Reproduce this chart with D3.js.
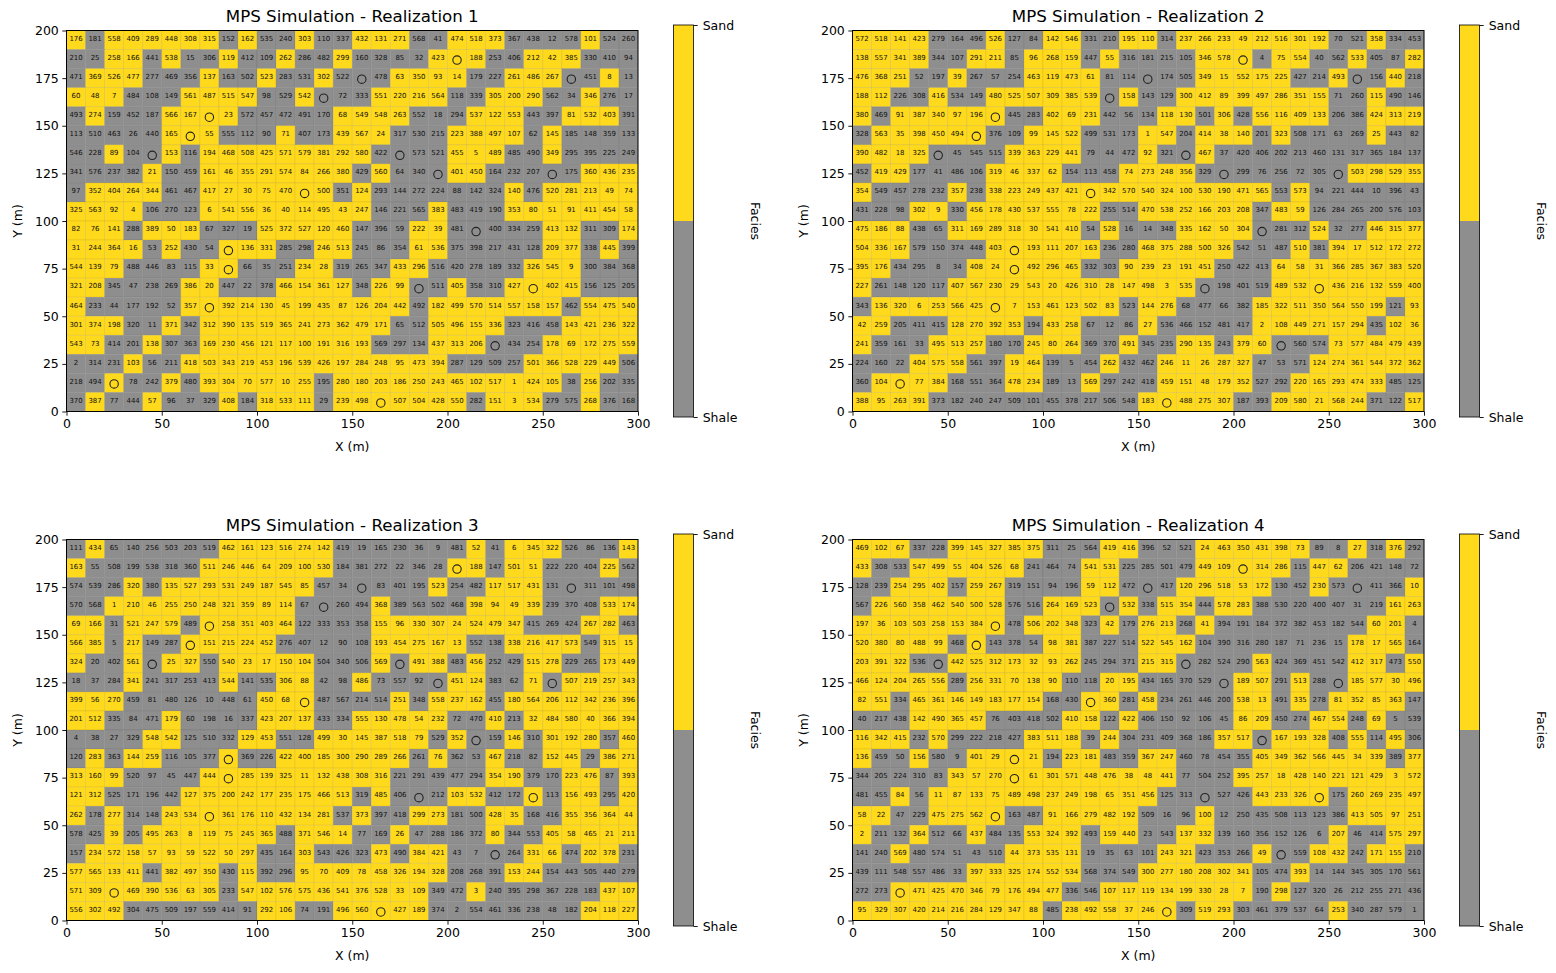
<!DOCTYPE html>
<html>
<head>
<meta charset="utf-8">
<script src="https://cdnjs.cloudflare.com/ajax/libs/d3/7.8.5/d3.min.js"></script>
<style>
html,body{margin:0;padding:0;background:#fff}
svg{display:block}
text{font-family:"DejaVu Sans",sans-serif;fill:#000}
</style>
</head>
<body>
<script>
// Conditioning wells, in metres
const wellX = [205,155,265,135,75,65,45,175,195,255,125,215,85,85,185,245,75,225,25,165];
const wellY = [185,175,175,165,155,145,135,135,125,125,115,95,85,75,65,65,55,35,15,5];

const xTicks = [0,50,100,150,200,250,300];
const yTicks = [0,25,50,75,100,125,150,175,200];
const facieNames = ["Shale","Sand"];
const facieColors = ["#8e8e8e","#ffd91c"];

// Realization 1: node order labels (null at a well) and facies, listed from the top row down
const labels1 = [
[176,181,558,409,289,448,308,315,152,162,535,240,303,110,337,432,131,271,568,41,474,518,373,367,438,12,578,101,524,260],
[210,25,258,166,441,538,15,306,119,412,109,262,286,482,299,160,328,85,32,423,null,188,253,406,212,42,385,330,410,94],
[471,369,526,477,277,469,356,137,163,502,523,283,531,302,522,null,478,63,350,93,14,179,227,261,486,267,null,451,8,13],
[60,48,7,484,108,149,561,487,515,547,98,529,542,null,72,333,551,220,216,564,118,339,305,200,290,562,34,346,276,17],
[493,274,159,452,187,566,167,null,23,572,457,472,491,170,68,549,548,263,552,18,294,537,122,553,443,397,81,532,403,391],
[113,510,463,26,440,165,null,55,555,112,90,71,407,173,439,567,24,317,530,215,223,388,497,107,62,145,185,148,359,133],
[546,228,89,104,null,153,116,194,468,508,425,571,579,381,292,580,422,null,573,521,455,5,489,485,490,349,295,395,225,249],
[341,576,237,382,21,150,459,161,46,355,291,574,84,266,380,429,560,64,340,null,401,450,164,232,207,null,175,360,436,235],
[97,352,404,264,344,461,467,417,27,30,75,470,null,500,351,124,293,144,272,224,88,142,324,140,476,520,281,213,49,74],
[325,563,92,4,106,270,123,6,541,556,36,40,114,495,43,247,146,221,565,383,483,419,190,353,80,51,91,411,454,58],
[82,76,141,288,389,50,183,67,327,19,525,372,527,120,460,147,396,59,222,39,481,null,400,334,259,413,132,311,309,174],
[31,244,364,16,53,252,430,54,null,136,331,285,298,246,513,245,86,354,61,536,375,398,217,431,128,209,377,338,445,399],
[544,139,79,488,446,83,115,33,null,66,35,251,234,28,319,265,347,433,296,516,420,278,189,332,326,545,9,300,384,368],
[321,208,345,47,238,269,386,20,447,22,378,466,154,361,127,348,226,99,null,511,405,358,310,427,null,402,415,156,125,205],
[464,233,44,177,192,52,357,null,392,214,130,45,199,435,87,126,204,442,492,182,499,570,514,557,158,157,462,554,475,540],
[301,374,198,320,11,371,342,312,390,135,519,365,241,273,362,479,171,65,512,505,496,155,336,323,416,458,143,421,236,322],
[543,73,414,201,138,307,363,169,230,456,121,117,100,191,316,193,569,297,134,437,313,206,null,434,254,178,69,172,275,559],
[2,314,231,103,56,211,418,503,343,219,453,196,539,426,197,284,248,95,473,394,287,129,509,257,501,366,528,229,449,506],
[218,494,null,78,242,379,480,393,304,70,577,10,255,195,280,180,203,186,250,243,465,102,517,1,424,105,38,256,202,335],
[370,387,77,444,57,96,37,329,408,184,318,533,111,29,239,498,null,507,504,428,550,282,151,3,534,279,575,268,376,168]
];
const facies1 = [
"101111110100100111001110000100",
"001101001001001000011100111000",
"011100010010010001111001110010",
"111000111100100011110011100100",
"010001111000001111000111001110",
"000001110001001110001111010000",
"001001011111111100001110010000",
"000010011111111010001100000111",
"011110011111110100000001011111",
"111100011111111100010001111111",
"111011100011111000110000011001",
"111101001110011000110000011010",
"111000011000110001100000111000",
"110000110001111011001001111000",
"100000111111111111011111110111",
"111001011111111110011110001111",
"110010011111111100011100011111",
"000100111111111111110000111110",
"001001011111101111111111110100",
"010010001011101111111011100100"
];

// Realization 2
const labels2 = [
[572,518,141,423,279,164,496,526,127,84,142,546,331,210,195,110,314,237,266,233,49,212,516,301,192,70,521,358,334,453],
[138,557,341,389,344,107,291,211,85,96,268,159,447,55,316,181,215,105,346,578,null,4,75,554,40,562,533,405,87,282],
[476,368,251,52,197,39,267,57,254,463,119,473,61,81,114,null,174,505,349,15,552,175,225,427,214,493,null,156,440,218],
[188,112,226,308,416,534,149,480,525,507,309,385,539,null,158,143,129,300,412,89,399,497,286,351,155,71,260,115,490,146],
[380,469,91,387,340,97,196,null,445,283,402,69,231,442,56,134,118,130,501,306,428,556,116,409,133,206,386,424,313,219],
[328,563,35,398,450,494,null,376,109,99,145,522,499,531,173,1,547,204,414,38,140,201,323,508,171,63,269,25,443,82],
[390,482,18,325,null,45,545,515,339,363,229,441,79,44,472,92,321,null,467,37,420,406,202,213,460,131,317,365,184,137],
[452,419,429,177,41,486,106,319,46,337,62,154,113,458,74,273,248,356,329,null,299,76,256,72,305,null,503,298,529,355],
[354,549,457,278,232,357,238,338,223,249,437,421,null,342,570,540,324,100,530,190,471,565,553,573,94,221,444,10,396,43],
[431,228,98,302,9,330,456,178,430,537,555,78,222,255,514,470,538,252,166,203,208,347,483,59,126,284,265,200,576,103],
[475,186,88,438,65,311,169,289,318,30,541,410,54,528,16,14,348,335,162,50,304,null,281,312,524,32,277,446,315,377],
[504,336,167,579,150,374,448,403,null,193,111,207,163,236,280,468,375,288,500,326,542,51,487,510,381,394,17,512,172,272],
[395,176,434,295,8,34,408,24,null,492,296,465,332,303,90,239,23,191,451,250,422,413,64,58,31,366,285,367,383,520],
[227,261,148,120,117,407,567,230,29,543,20,426,310,28,147,498,3,535,null,198,401,519,489,532,null,436,216,132,559,400],
[343,136,320,6,253,566,425,null,7,153,461,123,502,83,523,144,276,68,477,66,382,185,322,511,350,564,550,199,121,93],
[42,259,205,411,415,128,270,392,353,194,433,258,67,12,86,27,536,466,152,481,417,2,108,449,271,157,294,435,102,36],
[241,359,161,33,495,513,257,180,170,245,80,264,369,370,491,345,235,290,135,243,379,60,null,560,574,73,577,484,479,439],
[224,160,22,404,575,558,561,397,19,464,139,5,454,262,432,462,246,11,26,287,327,47,53,571,124,274,361,544,372,362],
[360,104,null,77,384,168,551,364,478,234,189,13,569,297,242,418,459,151,48,179,352,527,292,220,165,293,474,333,485,125],
[388,95,263,391,373,182,240,247,509,101,455,378,217,506,548,183,null,488,275,307,187,393,209,580,21,568,244,371,122,517]
];
const facies2 = [
"111100010011001101111111100100",
"111100110111010000111011001001",
"111001000111100000111110010010",
"110010011111101001111111100100",
"101111110011100011010111100111",
"011111100111000110111010000100",
"111100001111000100100000000000",
"011000011110001111000000001111",
"100001011111111111111101000000",
"000110111111100111111011000000",
"111001111111010001111000100111",
"111000011111100111110001011111",
"110000111111001111100011111111",
"100001111111111111000011111111",
"011111111111110110000111111101",
"110001111011000100000111111011",
"100011100111001001101100011111",
"000111001100010011111000111111",
"011110001100100011111001111100",
"111100000000000111110011111001"
];

// Realization 3
const labels3 = [
[111,434,65,140,256,503,203,519,462,161,123,516,274,142,419,19,165,230,36,9,481,52,41,6,345,322,526,86,136,143],
[163,55,508,199,538,318,360,511,246,446,64,209,100,530,184,381,272,22,346,28,null,188,147,501,51,222,220,404,225,562],
[574,539,286,320,380,135,527,293,531,249,187,545,85,457,34,null,83,401,195,523,254,482,117,517,431,131,null,311,101,498],
[570,568,1,210,46,255,250,248,321,359,89,114,67,null,260,494,368,389,563,502,468,398,94,49,339,239,370,408,533,174],
[69,166,31,521,247,579,489,null,258,351,403,464,122,333,353,358,155,96,330,307,24,524,479,347,415,269,424,267,282,463],
[566,385,5,217,149,287,null,151,215,224,452,276,407,12,90,108,193,454,275,167,13,552,138,338,216,417,573,549,315,15],
[324,20,402,561,null,25,327,550,540,23,17,150,104,504,340,506,569,null,491,388,483,456,252,429,515,278,229,265,173,449],
[18,37,284,341,241,317,253,413,544,141,535,306,88,42,98,486,73,557,92,null,451,124,383,62,71,null,507,219,257,343],
[399,56,270,459,81,480,126,10,448,61,450,68,null,487,567,214,514,251,348,558,237,162,455,180,564,206,112,342,236,396],
[201,512,335,84,471,179,60,198,16,337,423,207,137,433,334,555,130,478,54,232,72,470,410,213,32,484,580,40,366,394],
[4,38,27,329,548,542,125,510,332,129,453,551,128,499,30,145,387,518,79,529,352,null,159,146,310,301,192,280,357,460],
[120,283,363,144,259,116,105,377,null,369,226,422,400,185,300,290,289,266,261,76,362,53,467,218,82,152,445,29,386,271],
[313,160,99,520,97,45,447,444,null,285,139,325,11,132,438,308,316,221,291,439,477,294,354,190,379,170,223,476,87,393],
[121,312,525,171,196,442,127,375,200,242,177,235,175,466,513,319,485,406,null,212,103,532,412,172,null,113,156,493,295,420],
[262,178,277,314,148,243,534,null,361,176,110,432,134,281,537,373,397,418,299,273,181,500,428,35,168,416,355,356,364,44],
[578,425,39,205,495,263,8,119,75,245,365,488,371,546,14,77,169,26,47,288,186,372,80,344,553,405,58,465,21,211],
[157,234,572,158,57,93,59,522,50,297,435,164,303,543,426,323,473,490,384,421,43,7,null,264,331,66,474,202,378,231],
[577,565,133,411,441,382,497,350,430,115,392,296,95,70,409,78,458,326,194,328,208,268,391,153,244,154,443,505,440,279],
[571,309,null,469,390,536,63,305,233,547,102,576,575,436,541,376,528,33,109,349,472,3,240,395,298,367,228,183,437,107],
[556,302,492,304,475,509,197,559,414,91,292,106,74,191,496,560,null,427,189,374,2,554,461,336,238,48,182,204,118,227]
];
const facies3 = [
"010000001111110000000101110001",
"100000011111110000001101100010",
"000101111111100000010011100000",
"001111111111000010000111100011",
"110111011111000011111111000110",
"110100111110000011111001111011",
"100101101111100010110100110011",
"000100001001100100001100101111",
"111000000011100001011101111111",
"110001000011100111110010111111",
"000011000110011111101001011101",
"010110001001111111010010011011",
"111000011111111110000011001101",
"110000111111111010001100101101",
"101001111111110100110011001111",
"001011111110111001000010011111",
"011111111100100010110000110110",
"111101110100111111110001100000",
"111111110111111111100100000011",
"111000000011001111100000000111"
];

// Realization 4
const labels4 = [
[469,102,67,337,228,399,145,327,385,375,311,25,564,419,416,396,52,521,24,463,350,431,398,73,89,8,27,318,376,292],
[433,308,533,547,499,55,404,526,68,241,464,74,541,531,225,285,501,479,449,109,null,314,286,115,447,62,206,421,148,72],
[128,239,254,295,402,157,259,267,319,151,94,196,59,112,472,null,417,120,296,518,53,172,130,452,230,573,null,411,366,10],
[567,226,560,358,462,540,500,528,576,516,264,169,523,null,532,338,515,354,444,578,283,388,530,220,400,407,31,219,161,263],
[197,36,103,503,258,153,384,null,478,506,202,348,323,42,179,276,213,268,41,394,191,184,372,382,453,182,544,60,201,4],
[520,380,80,488,99,468,null,143,378,54,98,381,387,227,514,522,545,162,104,390,316,280,187,71,236,15,178,17,565,164],
[203,391,322,536,null,442,525,312,173,32,93,262,245,294,371,215,315,null,282,524,290,563,424,369,451,542,412,317,473,550],
[466,124,204,265,556,289,256,331,70,138,90,110,118,20,195,434,165,370,529,null,189,507,291,513,288,null,185,577,30,496],
[82,551,334,465,361,146,149,183,177,154,168,430,null,360,281,458,234,261,446,200,538,13,491,335,278,81,352,85,363,147],
[40,217,438,142,490,365,457,76,403,418,502,410,158,122,422,406,150,92,106,45,86,209,450,274,467,554,248,69,5,539],
[116,342,415,232,570,299,222,218,427,383,511,188,39,244,304,231,409,368,186,357,517,null,167,193,328,408,555,114,495,306],
[136,459,50,156,580,9,401,29,null,21,194,223,181,483,359,367,247,460,78,454,355,405,349,362,566,445,34,339,389,377],
[344,205,224,310,83,343,57,270,null,61,301,571,448,476,38,48,441,77,504,252,395,257,18,428,140,221,121,429,3,572],
[481,455,84,56,11,87,133,75,489,498,237,249,198,65,351,456,125,313,null,527,426,443,233,326,null,175,260,269,235,497],
[58,22,47,229,475,275,562,null,163,487,91,166,279,482,192,509,16,96,100,12,250,435,508,113,123,386,413,505,97,251],
[2,211,132,364,512,66,437,484,135,553,324,392,493,159,440,23,543,137,332,139,160,356,152,126,6,207,46,414,575,297],
[141,240,569,480,574,51,43,510,44,373,535,131,19,35,63,101,243,321,423,353,266,49,null,559,108,432,242,171,155,210],
[439,111,548,557,486,33,397,333,325,174,552,534,568,374,549,300,277,180,208,302,341,105,474,393,14,144,345,305,170,561],
[272,273,null,471,425,470,346,79,176,494,477,336,546,107,117,119,134,199,330,28,7,190,298,127,320,26,212,255,271,436],
[95,329,307,420,214,216,284,129,347,88,485,238,492,558,37,246,null,309,519,293,303,461,379,537,64,253,340,287,579,1]
];
const facies4 = [
"111001111100011000111111001010",
"100111111000110000111110110000",
"001110110000110001111100100001",
"011111110011101011011000000011",
"111111110111010110100000000110",
"111110100011000111000000001110",
"111001111111000110000100001101",
"111110111110011000001101001111",
"110111111100110100001101011110",
"000111100001101000001100110100",
"111010000111010000011011101010",
"100100111101100110000111111101",
"000001111111111110001111111111",
"001011111111111100000111101111",
"110011110011111000100000001111",
"100100100111011001100000010011",
"001000001111000011000100110110",
"000000111111000111111001000000",
"001111111110011111111010000000",
"111111111101111110110000010000"
];

const realizations = [
  {title:"MPS Simulation - Realization 1", labels:labels1, facies:facies1, left:66.5,  top:30.5},
  {title:"MPS Simulation - Realization 2", labels:labels2, facies:facies2, left:852.5, top:30.5},
  {title:"MPS Simulation - Realization 3", labels:labels3, facies:facies3, left:66.5,  top:539.5},
  {title:"MPS Simulation - Realization 4", labels:labels4, facies:facies4, left:852.5, top:539.5}
];

const plotW = 571.5, plotH = 381, cell = 10;
const svg = d3.select("body").append("svg").attr("width",1556).attr("height",973);

realizations.forEach(r => {
  const g = svg.append("g").attr("transform",`translate(${r.left},${r.top})`);
  const x = d3.scaleLinear().domain([0,300]).range([0,plotW]);
  const y = d3.scaleLinear().domain([0,200]).range([plotH,0]);

  // One record per grid node, row 0 being the northern edge
  const nodes = r.labels.flatMap((row,i) => row.map((v,j) => ({
    x0:j*cell, y1:200-i*cell, label:v, sand:+r.facies[i][j]
  })));

  g.append("g").selectAll("rect").data(nodes).join("rect")
    .attr("x",d=>x(d.x0)).attr("y",d=>y(d.y1))
    .attr("width",x(cell)-x(0)).attr("height",y(0)-y(cell))
    .attr("fill",d=>facieColors[d.sand])
    .attr("stroke","#000").attr("stroke-opacity",0.08).attr("stroke-width",0.8);

  g.append("g").selectAll("text").data(nodes.filter(d=>d.label!==null)).join("text")
    .attr("x",d=>x(d.x0+cell/2)).attr("y",d=>y(d.y1-cell/2)-1.2)
    .attr("text-anchor","middle").attr("dominant-baseline","central")
    .attr("font-size",6.94).style("fill","#111").text(d=>d.label);

  g.append("g").selectAll("circle").data(d3.range(wellX.length)).join("circle")
    .attr("cx",i=>x(wellX[i])).attr("cy",i=>y(wellY[i])+1)
    .attr("r",4.2).attr("fill","none").attr("stroke","#222").attr("stroke-width",1.1);

  const ax = d3.axisBottom(x).tickValues(xTicks).tickSize(4.2).tickPadding(3.5);
  const ay = d3.axisLeft(y).tickValues(yTicks).tickSize(4.2).tickPadding(3.5);
  const gx = g.append("g").attr("transform",`translate(0,${plotH})`).call(ax);
  const gy = g.append("g").call(ay);
  [gx,gy].forEach(a => {
    a.selectAll("text").attr("font-size",12.5).attr("font-family",'"DejaVu Sans",sans-serif');
    a.select(".domain").remove();
    a.selectAll("line").attr("stroke","#000").attr("stroke-width",0.9);
  });

  g.append("rect").attr("width",plotW).attr("height",plotH)
    .attr("fill","none").attr("stroke","#000").attr("stroke-width",1);

  g.append("text").attr("x",plotW/2).attr("y",-8.5).attr("text-anchor","middle")
    .attr("font-size",16.67).text(r.title);
  g.append("text").attr("x",plotW/2).attr("y",plotH+39.5).attr("text-anchor","middle")
    .attr("font-size",12.5).text("X (m)");
  g.append("text").attr("transform",`translate(-45,${plotH/2}) rotate(-90)`)
    .attr("text-anchor","middle").attr("font-size",12.5).text("Y (m)");

  // Two-class colour key with its labels at the ends
  const cb = g.append("g").attr("transform",`translate(${plotW+35.5},-5.5)`);
  const cbH = 392, cbW = 20;
  const c = d3.scaleLinear().domain([0,1]).range([cbH,0]);
  cb.selectAll("rect").data([0,1]).join("rect")
    .attr("x",0).attr("y",d=>c(0.5*(d+1))).attr("width",cbW).attr("height",cbH/2)
    .attr("fill",d=>facieColors[d]);
  cb.append("rect").attr("width",cbW).attr("height",cbH).attr("fill","none")
    .attr("stroke","#000").attr("stroke-width",0.8);
  const ac = d3.axisRight(c).tickValues([0,1]).tickFormat(d=>facieNames[d]).tickSize(4.2).tickPadding(5);
  const gc = cb.append("g").attr("transform",`translate(${cbW},0)`).call(ac);
  gc.select(".domain").remove();
  gc.selectAll("text").attr("font-size",12.5).attr("font-family",'"DejaVu Sans",sans-serif');
  gc.selectAll("line").attr("stroke","#000").attr("stroke-width",0.9);
  cb.append("text").attr("transform",`translate(${cbW+57},${cbH/2}) rotate(90)`)
    .attr("text-anchor","middle").attr("font-size",12.5).text("Facies");
});
</script>
</body>
</html>
